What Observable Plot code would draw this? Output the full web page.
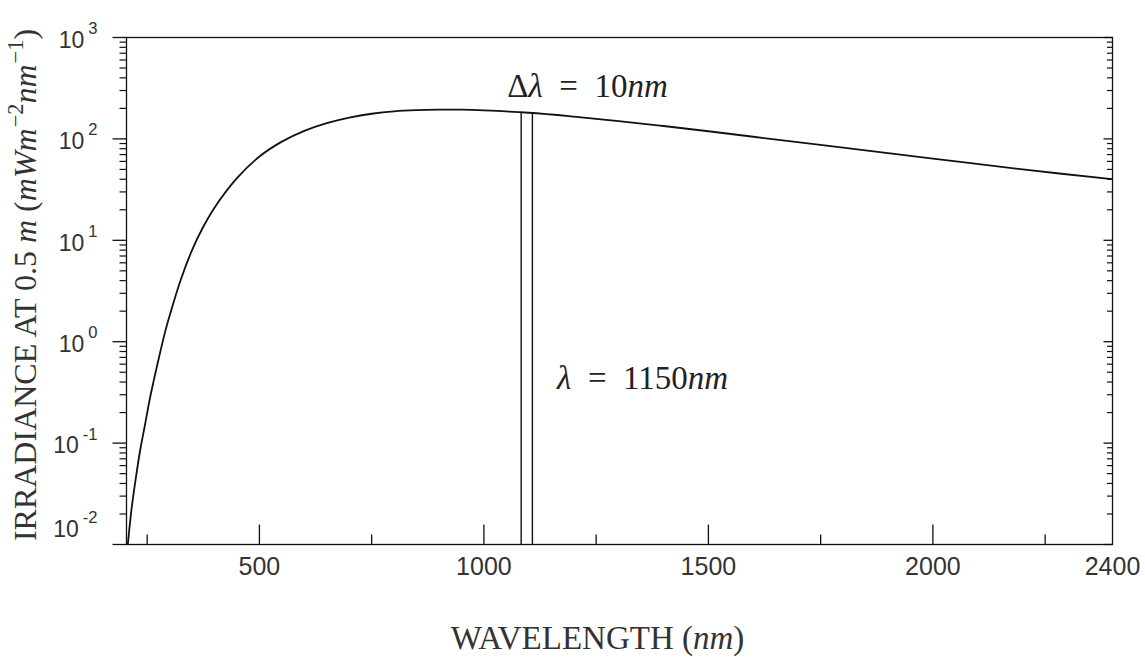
<!DOCTYPE html>
<html>
<head>
<meta charset="utf-8">
<script src="https://cdn.jsdelivr.net/npm/d3@7"></script>
<script src="https://cdn.jsdelivr.net/npm/@observablehq/plot@0.6"></script>
<style>
  html, body { margin: 0; padding: 0; background: #fff; }
  #chart svg { display: block; background: #fff; }
</style>
</head>
<body>
<div id="chart"></div>
<script>
// ---- data ----
const wavelength = [207, 215, 225, 235, 245, 255, 265, 275, 290, 300, 325, 350, 375, 400, 450, 500, 550, 600, 650, 700, 750, 800, 850, 900, 950, 1000, 1100, 1200, 1300, 1400, 1500, 1600, 1800, 2000, 2200, 2400];
const irradiance = [0.010, 0.022, 0.046, 0.088, 0.15, 0.26, 0.42, 0.66, 1.25, 1.8, 4.1, 8.0, 13.6, 21, 41, 67, 94, 120, 143, 162, 177, 187, 192, 194, 194, 191, 181, 166, 150, 134, 119, 105, 82, 64, 50, 40];

const bandEdges = [1083, 1108];
const bandTops = [183, 180];

const xTickLabels = [500, 1000, 1500, 2000, 2400];
const xMajorTicks = [500, 1000, 1500, 2000];
const xMinorTicks = [250, 750, 1250, 1750, 2250];
const yDecades = [1000, 100, 10, 1, 0.1, 0.01];
const yLabelDecades = [1000, 100, 10, 1, 0.1];
const yBottomLabel = [0.01];

const annotations = [
  {x: 1052, y: 326, label: "Δ*λ*\u2002=\u200210*nm*"},
  {x: 1163, y: 0.43, label: "*λ*\u2002=\u20021150*nm*"}
];
const xTitle = ["WAVELENGTH (*nm*)"];
const yTitle = ["IRRADIANCE AT 0.5 *m* (*mWm*^−2^*nm*^−1^)"];

// ---- chart ----
const rows = wavelength.map((w, i) => ({w, v: irradiance[i]}));
const yMinor = d3.scaleLog().domain([0.01, 1000]).ticks()
  .filter(t => !yDecades.some(d => Math.abs(t / d - 1) < 1e-9));

const up = len => ({draw(ctx) { ctx.moveTo(0, 0); ctx.lineTo(0, -len); }});
const leftward = len => ({draw(ctx) { ctx.moveTo(0, 0); ctx.lineTo(-len, 0); }});
const ink = "#111";
const sans = "Liberation Sans, Arial, sans-serif";
const serif = "Liberation Serif, Times New Roman, serif";
const expFormat = d => "10^" + Math.round(Math.log10(d)) + "^";

const chart = Plot.plot({
  width: 1145,
  height: 657,
  marginTop: 37,
  marginRight: 33,
  marginBottom: 113,
  marginLeft: 126,
  x: {type: "linear", domain: [204, 2400]},
  y: {type: "log", domain: [0.01, 1000]},
  marks: [
    Plot.frame({stroke: ink, strokeWidth: 1.3}),
    Plot.line(rows, {x: "w", y: "v", stroke: ink, strokeWidth: 1.8, curve: "catmull-rom", clip: true}),
    Plot.ruleX(bandEdges, {x: d => d, y1: 0.01, y2: (d, i) => bandTops[i], stroke: ink, strokeWidth: 1.4}),
    // ticks
    Plot.dot(xMajorTicks, {x: d => d, frameAnchor: "bottom", symbol: up(20), fill: "none", stroke: ink, strokeWidth: 1.3}),
    Plot.dot(xMinorTicks, {x: d => d, frameAnchor: "bottom", symbol: up(10), fill: "none", stroke: ink, strokeWidth: 1.3}),
    Plot.dot(yDecades, {y: d => d, frameAnchor: "left", symbol: leftward(14), fill: "none", stroke: ink, strokeWidth: 1.3}),
    Plot.dot(yMinor, {y: d => d, frameAnchor: "left", symbol: leftward(7), fill: "none", stroke: ink, strokeWidth: 1.2}),
    Plot.dot(yDecades, {y: d => d, frameAnchor: "right", symbol: leftward(9), fill: "none", stroke: ink, strokeWidth: 1.3}),
    Plot.dot(yMinor, {y: d => d, frameAnchor: "right", symbol: leftward(5.5), fill: "none", stroke: ink, strokeWidth: 1.2}),
    // tick labels
    Plot.axisX({ticks: xTickLabels, tickSize: 0, tickPadding: 13, tickFormat: d => String(d), fontSize: 25, fontFamily: sans, fill: "#333"}),
    Plot.axisY({ticks: yLabelDecades, tickSize: 0, tickPadding: 29, tickFormat: expFormat, fontSize: 23, fontFamily: sans, fill: "#333", dy: 3}),
    Plot.axisY({ticks: yBottomLabel, tickSize: 0, tickPadding: 29, tickFormat: expFormat, fontSize: 23, fontFamily: sans, fill: "#333", dy: -15}),
    // titles and annotations
    Plot.text(xTitle, {frameAnchor: "bottom", textAnchor: "middle", lineAnchor: "middle", dx: -22, dy: 94, fontSize: 33, fontFamily: serif, fill: "#333"}),
    Plot.text(yTitle, {frameAnchor: "left", textAnchor: "middle", lineAnchor: "middle", rotate: -90, dx: -101, dy: -6, fontSize: 32, fontFamily: serif, fill: "#333"}),
    Plot.text(annotations, {x: "x", y: "y", text: "label", textAnchor: "start", lineAnchor: "middle", fontSize: 33, fontFamily: serif, fill: "#222"})
  ]
});

document.getElementById("chart").appendChild(chart);

// rich text: *italic*, ^superscript^
const NS = "http://www.w3.org/2000/svg";
function richify(el, supScale, shiftEm, supDx) {
  const s = el.textContent;
  if (!/[*^]/.test(s)) return;
  const fs = parseFloat(getComputedStyle(el).fontSize) || 16;
  const shift = fs * shiftEm;
  while (el.firstChild) el.removeChild(el.firstChild);
  let italic = false, sup = false, buf = "", pendingDy = 0, pendingDx = 0;
  const flush = () => {
    if (!buf) return;
    const t = document.createElementNS(NS, "tspan");
    if (italic) t.setAttribute("font-style", "italic");
    if (sup) t.setAttribute("font-size", (fs * supScale).toFixed(1));
    if (pendingDy) { t.setAttribute("dy", pendingDy.toFixed(1)); pendingDy = 0; }
    if (pendingDx) { t.setAttribute("dx", pendingDx.toFixed(1)); pendingDx = 0; }
    t.textContent = buf;
    el.appendChild(t);
    buf = "";
  };
  for (const ch of s) {
    if (ch === "*") { flush(); italic = !italic; }
    else if (ch === "^") {
      flush(); sup = !sup;
      pendingDy += sup ? -shift : shift;
      if (sup) pendingDx += supDx;
    }
    else buf += ch;
  }
  flush();
}
chart.querySelectorAll("text").forEach(el => {
  const inYTicks = el.closest('[aria-label="y-axis tick label"]');
  if (inYTicks) richify(el, 0.72, 0.6, 4);
  else richify(el, 0.7, 0.4, 1);
});
</script>
</body>
</html>
